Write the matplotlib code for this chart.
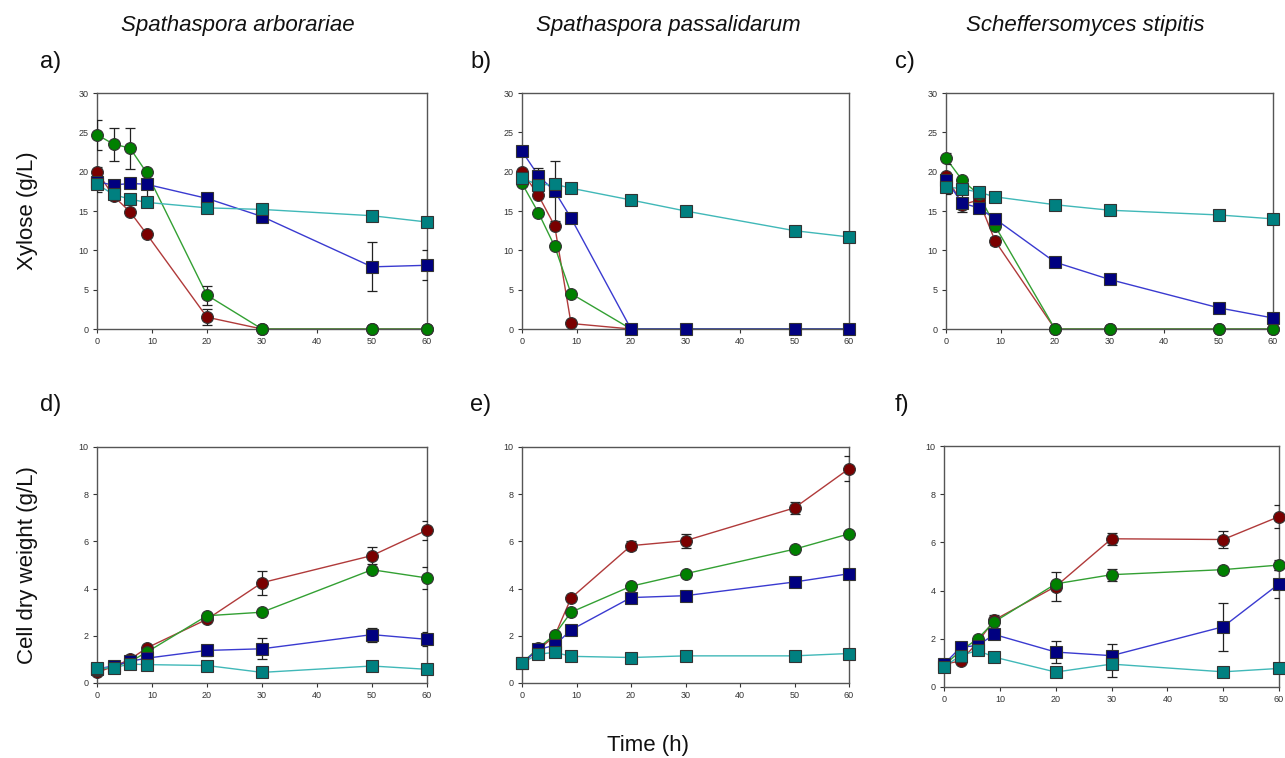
import matplotlib
matplotlib.use("Agg")
import matplotlib.pyplot as plt
import numpy as np

plt.rcParams['font.family'] = ['Liberation Sans', 'DejaVu Sans']

time_h = [0, 3, 6, 9, 20, 30, 50, 60]

species = ["Spathaspora arborariae", "Spathaspora passalidarum", "Scheffersomyces stipitis"]
panel_letters = ["a)", "b)", "c)", "d)", "e)", "f)"]

# ---- Xylose (g/L) ----
a_red = [20.0, 16.9, 14.9, 12.1, 1.5, 0, 0, 0]
a_red_err = [0.6, 0, 0, 0, 1.0, 0, 0, 0]
a_green = [24.7, 23.5, 23.0, 19.9, 4.3, 0, 0, 0]
a_green_err = [1.9, 2.1, 2.6, 0.3, 1.2, 0, 0, 0]
a_blue = [18.7, 18.3, 18.5, 18.4, 16.6, 14.3, 7.9, 8.1]
a_blue_err = [0, 0.7, 0, 1.8, 0, 0, 3.1, 1.9]
a_teal = [18.4, 17.1, 16.5, 16.1, 15.4, 15.2, 14.4, 13.6]
a_teal_err = [1.0, 0.3, 0, 0, 0, 0, 0, 0]

b_red = [20.0, 17.0, 13.1, 0.7, 0, 0, 0, 0]
b_red_err = [0, 0, 0, 0, 0, 0, 0, 0]
b_green = [18.5, 14.8, 10.5, 4.5, 0, 0, 0, 0]
b_green_err = [0, 0, 0, 0, 0, 0, 0, 0]
b_blue = [22.6, 19.5, 17.5, 14.1, 0, 0, 0, 0]
b_blue_err = [0, 1.0, 3.8, 0, 0, 0, 0, 0]
b_teal = [19.2, 18.3, 18.4, 17.9, 16.4, 15.0, 12.5, 11.7]
b_teal_err = [0, 0, 0, 0, 0, 0, 0, 0]

c_red = [19.5, 15.8, 16.4, 11.2, 0, 0, 0, 0]
c_red_err = [0, 0, 0, 0.5, 0, 0, 0, 0]
c_green = [21.7, 18.9, 17.1, 13.1, 0, 0, 0, 0]
c_green_err = [0.7, 0, 0, 0, 0, 0, 0, 0]
c_blue = [18.9, 16.0, 15.4, 14.0, 8.5, 6.3, 2.7, 1.4]
c_blue_err = [0, 1.1, 0.7, 0, 0, 0, 0, 0]
c_teal = [18.1, 17.8, 17.4, 16.8, 15.8, 15.1, 14.5, 14.0]
c_teal_err = [0.9, 0, 0, 0, 0, 0, 0, 0]

# ---- Cell dry weight (g/L) ----
d_red = [0.45, 0.70, 1.00, 1.48, 2.70, 4.25, 5.40, 6.48]
d_red_err = [0, 0, 0, 0, 0, 0.50, 0.35, 0.40]
d_green = [0.55, 0.70, 0.90, 1.30, 2.85, 3.00, 4.80, 4.45]
d_green_err = [0, 0, 0, 0, 0, 0, 0, 0.45]
d_blue = [0.60, 0.72, 0.92, 1.05, 1.38, 1.45, 2.05, 1.85]
d_blue_err = [0, 0, 0, 0, 0.25, 0.45, 0.30, 0.30]
d_teal = [0.62, 0.65, 0.80, 0.78, 0.74, 0.45, 0.72, 0.58]
d_teal_err = [0, 0, 0, 0, 0, 0, 0, 0]

e_red = [0.85, 1.40, 2.00, 3.60, 5.82, 6.03, 7.42, 9.08]
e_red_err = [0, 0, 0, 0, 0.20, 0.30, 0.25, 0.53]
e_green = [0.85, 1.48, 2.05, 3.00, 4.10, 4.63, 5.67, 6.32]
e_green_err = [0, 0, 0, 0, 0, 0, 0, 0]
e_blue = [0.85, 1.42, 1.60, 2.25, 3.62, 3.70, 4.28, 4.63]
e_blue_err = [0, 0, 0, 0, 0, 0, 0, 0]
e_teal = [0.85, 1.22, 1.30, 1.13, 1.08, 1.15, 1.15, 1.25]
e_teal_err = [0, 0, 0, 0, 0, 0, 0, 0]

f_red = [0.95, 1.08, 1.85, 2.78, 4.17, 6.15, 6.12, 7.07]
f_red_err = [0, 0, 0, 0.2, 0.60, 0.25, 0.35, 0.47]
f_green = [0.90, 1.50, 2.00, 2.70, 4.28, 4.66, 4.87, 5.06]
f_green_err = [0, 0, 0, 0, 0, 0.25, 0, 0.20]
f_blue = [0.95, 1.65, 1.72, 2.18, 1.45, 1.30, 2.50, 4.28]
f_blue_err = [0, 0, 0, 0, 0.47, 0.50, 1.00, 0.58]
f_teal = [0.85, 1.30, 1.52, 1.24, 0.62, 0.95, 0.63, 0.77]
f_teal_err = [0, 0, 0, 0, 0, 0.55, 0, 0]

panels = [
    [(a_red, a_red_err), (a_green, a_green_err), (a_blue, a_blue_err), (a_teal, a_teal_err)],
    [(b_red, b_red_err), (b_green, b_green_err), (b_blue, b_blue_err), (b_teal, b_teal_err)],
    [(c_red, c_red_err), (c_green, c_green_err), (c_blue, c_blue_err), (c_teal, c_teal_err)],
    [(d_red, d_red_err), (d_green, d_green_err), (d_blue, d_blue_err), (d_teal, d_teal_err)],
    [(e_red, e_red_err), (e_green, e_green_err), (e_blue, e_blue_err), (e_teal, e_teal_err)],
    [(f_red, f_red_err), (f_green, f_green_err), (f_blue, f_blue_err), (f_teal, f_teal_err)],
]

styles = [
    dict(marker='o', mfc='#7a0000', line='#b03a3a'),
    dict(marker='o', mfc='#008000', line='#33a033'),
    dict(marker='s', mfc='#000080', line='#3a3ad0'),
    dict(marker='s', mfc='#008080', line='#40b8b8'),
]

W, H = 1285, 758
fig = plt.figure(figsize=(W / 100, H / 100), dpi=100)

# axes boxes in pixels: (left, top, right, bottom)
boxes = [
    (97, 93, 427, 329), (522, 93, 849, 329), (946, 93, 1273, 329),
    (97, 447, 427, 683), (522, 447, 849, 683), (944, 446, 1279, 687),
]

for i, (box, series) in enumerate(zip(boxes, panels)):
    l, t, r, b = box
    ax = fig.add_axes([l / W, 1 - b / H, (r - l) / W, (b - t) / H])
    for (vals, errs), st in zip(series, styles):
        ax.plot(time_h, vals, color=st['line'], lw=1.0, zorder=2)
        yerr = np.array(errs, dtype=float)
        mask = yerr > 0
        if mask.any():
            ax.errorbar(np.array(time_h)[mask], np.array(vals)[mask], yerr=yerr[mask],
                        fmt='none', ecolor='#222222', elinewidth=0.9, capsize=3.5,
                        capthick=0.9, zorder=3)
        ax.plot(time_h, vals, linestyle='none', marker=st['marker'],
                markerfacecolor=st['mfc'], markeredgecolor='#333333',
                markeredgewidth=0.8, markersize=8.5 if st['marker'] == 'o' else 8,
                zorder=4, clip_on=False)
    ax.set_xlim(0, 60)
    if i < 3:
        ax.set_ylim(0, 30)
        ax.set_yticks([0, 5, 10, 15, 20, 25, 30])
    else:
        ax.set_ylim(0, 10)
        ax.set_yticks([0, 2, 4, 6, 8, 10])
    ax.set_xticks([0, 10, 20, 30, 40, 50, 60])
    ax.tick_params(direction='out', length=3, width=0.8, labelsize=6.5,
                   colors='#333333', pad=3)
    for sp in ax.spines.values():
        sp.set_color('#555555')
        sp.set_linewidth(1.0)

# Column titles
for x, name in zip([238, 668, 1085], species):
    fig.text(x / W, 1 - 25 / H, name, ha='center', va='center',
             fontsize=16, style='italic', color='#111111')

# Panel letters
letter_pos = [(40, 62), (470, 62), (895, 62), (40, 405), (470, 405), (895, 405)]
for (x, y), lab in zip(letter_pos, panel_letters):
    fig.text(x / W, 1 - y / H, lab, ha='left', va='center', fontsize=17, color='#111111')

fig.text(28 / W, 1 - 211 / H, "Xylose (g/L)", rotation=90, ha='center', va='center',
         fontsize=16, color='#111111')
fig.text(28 / W, 1 - 565 / H, "Cell dry weight (g/L)", rotation=90, ha='center',
         va='center', fontsize=16, color='#111111')
fig.text(648 / W, 1 - 745 / H, "Time (h)", ha='center', va='center', fontsize=16,
         color='#111111')

fig.savefig("out.png", dpi=100, facecolor='white')
